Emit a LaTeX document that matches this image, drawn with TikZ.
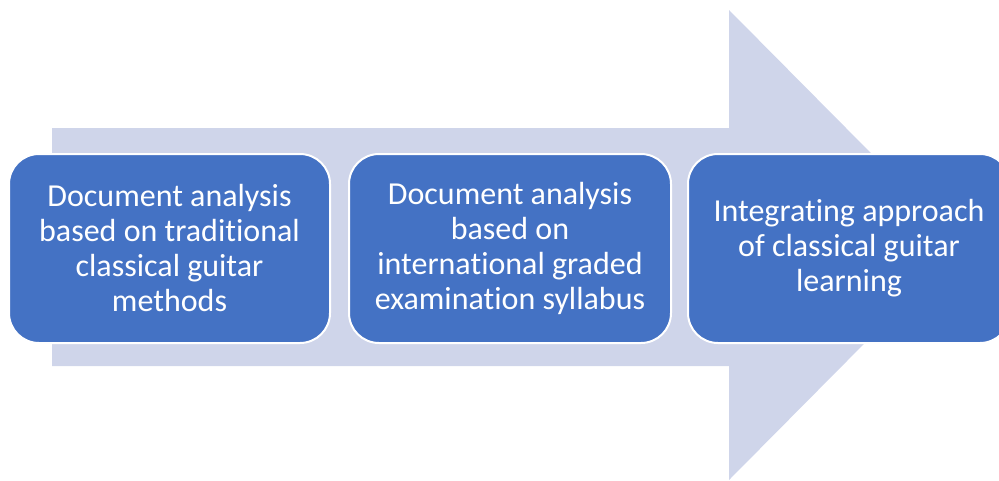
\documentclass[tikz,border=0pt]{standalone}
\usepackage{fontspec}
\setmainfont[Ligatures={NoCommon}]{Carlito}
\definecolor{boxblue}{HTML}{4472C4}
\definecolor{arrowfill}{HTML}{CFD5EA}
\begin{document}
\begin{tikzpicture}[x=1pt,y=-1pt,
  stage/.style={draw=white,line width=2pt,fill=boxblue,rounded corners=30pt,
    minimum width=#1,minimum height=189pt,inner sep=0pt,
    text=white,align=center,font=\fontsize{32}{35}\selectfont,anchor=north west}]
\useasboundingbox (0,0) rectangle (999,480);
\fill[arrowfill] (52,128) -- (729,128) -- (729,10) -- (962,245) -- (729,480) -- (729,366) -- (52,366) -- cycle;
\node[stage=321pt] (b1) at (8,153) {Document analysis\\based on traditional\\classical guitar\\methods};
\node[stage=322pt] (b2) at (348,153) {Document analysis\\based on\\international graded\\examination syllabus};
\node[stage=322pt] (b3) at (687,153) {Integrating approach\\of classical guitar\\learning};
\end{tikzpicture}
\end{document}
